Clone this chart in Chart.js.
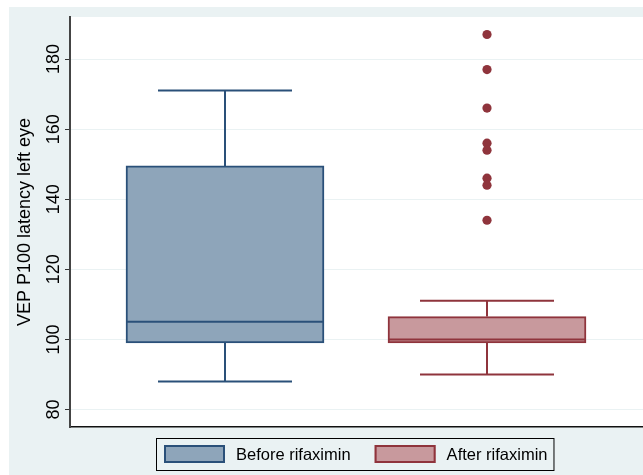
<!DOCTYPE html>
<html>
<head>
<meta charset="utf-8">
<script src="https://cdn.jsdelivr.net/npm/chart.js@4.4.1/dist/chart.umd.min.js"></script>
<style>
  html, body { margin: 0; padding: 0; background: #ffffff; }
  #wrap { width: 643px; height: 475px; }
</style>
</head>
<body>
<div id="wrap"><canvas id="boxChart"></canvas></div>
<script>
const groups = ["Before rifaximin", "After rifaximin"];
const lowerWhisker = [88, 90];
const lowerQuartile = [99, 99];
const medians = [105, 100];
const upperQuartile = [149.5, 106.5];
const upperWhisker = [171, 111];
const outliersAfter = [187, 177, 166, 156, 154, 146, 144, 134];
const yTicks = [80, 100, 120, 140, 160, 180];

const fills = ["#8ea5ba", "#c8999d"];
const lines = ["#2a5079", "#8f343c"];
const FONT = '"Liberation Sans", Arial, sans-serif';

// whiskers, medians, rotated tick labels and the framed legend
const boxExtras = {
    id: "boxExtras",
    beforeDraw(chart) {
        const {ctx, chartArea: a} = chart;
        ctx.save();
        ctx.fillStyle = "#ffffff";
        ctx.fillRect(0, 0, chart.width, chart.height);
        ctx.fillStyle = "#eaf2f3";
        ctx.fillRect(9, 7, chart.width - 9, chart.height - 7);
        ctx.fillStyle = "#ffffff";
        ctx.fillRect(a.left, a.top, a.right - a.left, a.bottom - a.top);
        ctx.restore();
    },
    beforeDatasetsDraw(chart) {
        const {ctx} = chart;
        const x = chart.scales.x, y = chart.scales.y;
        ctx.save();
        ctx.lineWidth = 2;
        groups.forEach((g, i) => {
            const px = Math.round(x.getPixelForValue(i + 1));
            const lo = y.getPixelForValue(lowerWhisker[i]);
            const hi = y.getPixelForValue(upperWhisker[i]);
            ctx.strokeStyle = lines[i];
            ctx.beginPath();
            ctx.moveTo(px, lo);
            ctx.lineTo(px, y.getPixelForValue(lowerQuartile[i]));
            ctx.moveTo(px, hi);
            ctx.lineTo(px, y.getPixelForValue(upperQuartile[i]));
            ctx.moveTo(px - 67, lo);
            ctx.lineTo(px + 67, lo);
            ctx.moveTo(px - 67, hi);
            ctx.lineTo(px + 67, hi);
            ctx.stroke();
        });
        ctx.restore();
    },
    afterDatasetsDraw(chart) {
        const {ctx} = chart;
        const y = chart.scales.y;
        ctx.save();
        ctx.lineWidth = 2;
        groups.forEach((g, i) => {
            const bar = chart.getDatasetMeta(i).data[0];
            const py = y.getPixelForValue(medians[i]);
            ctx.strokeStyle = lines[i];
            ctx.beginPath();
            ctx.moveTo(bar.x - bar.width / 2, py);
            ctx.lineTo(bar.x + bar.width / 2, py);
            ctx.stroke();
        });
        ctx.restore();
    },
    afterDraw(chart) {
        const {ctx} = chart;
        const y = chart.scales.y;
        ctx.save();
        ctx.fillStyle = "#000";
        ctx.font = "18px " + FONT;
        ctx.textAlign = "center";
        ctx.textBaseline = "alphabetic";
        y.ticks.forEach((t) => {
            ctx.save();
            ctx.translate(y.right - 11, y.getPixelForValue(t.value));
            ctx.rotate(-Math.PI / 2);
            ctx.fillText(String(t.value), 0, 0);
            ctx.restore();
        });

        // legend
        ctx.font = "16.5px " + FONT;
        const sw = 61, sh = 18, gapText = 11, gapItem = 24, padL = 8, padR = 6;
        const widths = groups.map((g) => sw + gapText + ctx.measureText(g).width);
        const total = widths.reduce((s, w) => s + w, 0) + gapItem * (groups.length - 1);
        const boxW = total + padL + padR;
        const left = Math.round(355 - boxW / 2);
        const top = 438, h = 32;
        ctx.strokeStyle = "#000";
        ctx.lineWidth = 1;
        ctx.strokeRect(left + 0.5, top + 0.5, boxW, h);
        let cx = left + padL;
        ctx.textAlign = "left";
        ctx.textBaseline = "middle";
        groups.forEach((g, i) => {
            ctx.fillStyle = fills[i];
            ctx.fillRect(cx, top + 7, sw, sh);
            ctx.strokeStyle = lines[i];
            ctx.lineWidth = 2;
            ctx.strokeRect(cx + 1, top + 8, sw - 2, sh - 2);
            ctx.fillStyle = "#000";
            ctx.fillText(g, cx + sw + gapText, top + 17);
            cx += widths[i] + gapItem;
        });
        ctx.restore();
    }
};

function generateChart() {
    const datasets = groups.map((g, i) => ({
        type: "bar",
        label: g,
        data: [{x: i + 1, y: [lowerQuartile[i], upperQuartile[i]]}],
        backgroundColor: fills[i],
        borderColor: lines[i],
        borderWidth: 2,
        borderSkipped: false,
        barThickness: 198,
        grouped: false,
    }));
    datasets.push({
        type: "scatter",
        label: "outliers",
        data: outliersAfter.map((v) => ({x: 2, y: v})),
        backgroundColor: lines[1],
        borderWidth: 0,
        pointRadius: 4.6,
    });

    const options = {
        responsive: true,
        maintainAspectRatio: false,
        animation: false,
        layout: {autoPadding: false, padding: {top: 17, right: 0, left: 12, bottom: 48}},
        scales: {
            x: {
                type: "linear",
                min: 0.4084,
                max: 2.5954,
                offset: false,
                afterFit: (s) => { s.height = 0; },
                ticks: {display: false},
                grid: {display: false, offset: false},
                border: {display: true, color: "#111", width: 1.5},
            },
            y: {
                min: 75,
                max: 192,
                beginAtZero: false,
                afterBuildTicks: (s) => { s.ticks = yTicks.map((v) => ({value: v})); },
                afterFit: (s) => { s.width = 58; },
                ticks: {color: "rgba(0,0,0,0)", font: {size: 18, family: FONT}},
                grid: {color: "#eaf2f3", lineWidth: 1, tickLength: 5, tickColor: "#333"},
                border: {display: true, color: "#444", width: 2},
                title: {
                    display: true,
                    text: "VEP P100 latency left eye",
                    color: "#000",
                    font: {size: 18, family: FONT},
                    padding: {top: 2, bottom: 0},
                },
            },
        },
        plugins: {
            legend: {display: false},
            tooltip: {enabled: false},
        },
    };

    new Chart(document.getElementById("boxChart"), {
        type: "bar",
        data: {datasets},
        options,
        plugins: [boxExtras],
    });
}
generateChart();
</script>
</body>
</html>
